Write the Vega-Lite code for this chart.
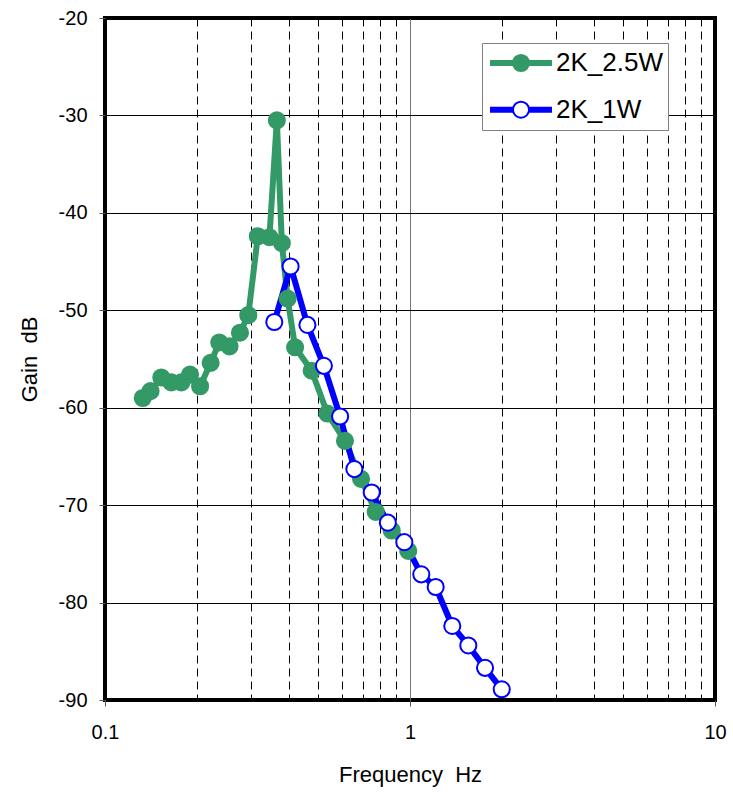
{
  "$schema": "https://vega.github.io/schema/vega-lite/v6.json",
  "width": 610,
  "height": 682,
  "autosize": {"type": "none"},
  "padding": {"left": 105, "top": 18, "right": 18, "bottom": 92},
  "background": "white",
  "config": {
    "view": {"stroke": "black", "strokeWidth": 4},
    "font": "Liberation Sans"
  },
  "data": {
    "values": [
      {"f": 0.133, "gain": -59.0, "series": "2K_2.5W"},
      {"f": 0.141, "gain": -58.3, "series": "2K_2.5W"},
      {"f": 0.153, "gain": -56.9, "series": "2K_2.5W"},
      {"f": 0.165, "gain": -57.4, "series": "2K_2.5W"},
      {"f": 0.178, "gain": -57.4, "series": "2K_2.5W"},
      {"f": 0.190, "gain": -56.6, "series": "2K_2.5W"},
      {"f": 0.205, "gain": -57.8, "series": "2K_2.5W"},
      {"f": 0.222, "gain": -55.4, "series": "2K_2.5W"},
      {"f": 0.237, "gain": -53.3, "series": "2K_2.5W"},
      {"f": 0.256, "gain": -53.7, "series": "2K_2.5W"},
      {"f": 0.277, "gain": -52.3, "series": "2K_2.5W"},
      {"f": 0.295, "gain": -50.5, "series": "2K_2.5W"},
      {"f": 0.317, "gain": -42.4, "series": "2K_2.5W"},
      {"f": 0.346, "gain": -42.5, "series": "2K_2.5W"},
      {"f": 0.366, "gain": -30.5, "series": "2K_2.5W"},
      {"f": 0.380, "gain": -43.1, "series": "2K_2.5W"},
      {"f": 0.397, "gain": -48.8, "series": "2K_2.5W"},
      {"f": 0.420, "gain": -53.8, "series": "2K_2.5W"},
      {"f": 0.476, "gain": -56.2, "series": "2K_2.5W"},
      {"f": 0.536, "gain": -60.6, "series": "2K_2.5W"},
      {"f": 0.612, "gain": -63.4, "series": "2K_2.5W"},
      {"f": 0.691, "gain": -67.3, "series": "2K_2.5W"},
      {"f": 0.772, "gain": -70.7, "series": "2K_2.5W"},
      {"f": 0.871, "gain": -72.6, "series": "2K_2.5W"},
      {"f": 0.987, "gain": -74.7, "series": "2K_2.5W"},
      {"f": 0.359, "gain": -51.2, "series": "2K_1W"},
      {"f": 0.406, "gain": -45.5, "series": "2K_1W"},
      {"f": 0.461, "gain": -51.5, "series": "2K_1W"},
      {"f": 0.522, "gain": -55.7, "series": "2K_1W"},
      {"f": 0.590, "gain": -60.9, "series": "2K_1W"},
      {"f": 0.657, "gain": -66.3, "series": "2K_1W"},
      {"f": 0.749, "gain": -68.7, "series": "2K_1W"},
      {"f": 0.846, "gain": -71.8, "series": "2K_1W"},
      {"f": 0.958, "gain": -73.8, "series": "2K_1W"},
      {"f": 1.089, "gain": -77.1, "series": "2K_1W"},
      {"f": 1.214, "gain": -78.4, "series": "2K_1W"},
      {"f": 1.376, "gain": -82.4, "series": "2K_1W"},
      {"f": 1.553, "gain": -84.4, "series": "2K_1W"},
      {"f": 1.762, "gain": -86.7, "series": "2K_1W"},
      {"f": 1.999, "gain": -88.9, "series": "2K_1W"}
    ]
  },
  "encoding": {
    "x": {
      "field": "f",
      "type": "quantitative",
      "scale": {"type": "log", "domain": [0.1, 10], "nice": false},
      "axis": {
        "orient": "bottom",
        "values": [0.1, 0.2, 0.3, 0.4, 0.5, 0.6, 0.7, 0.8, 0.9, 1, 2, 3, 4, 5, 6, 7, 8, 9, 10],
        "format": "~g",
        "labelExpr": "(datum.value == 0.1 || datum.value == 1 || datum.value == 10) ? datum.label : ''",
        "labelFlush": false,
        "labelOverlap": false,
        "labelBound": false,
        "labelFontSize": 20,
        "labelColor": "black",
        "labelPadding": 16,
        "grid": true,
        "gridColor": {"condition": {"test": "datum.value == 1", "value": "#777777"}, "value": "black"},
        "gridDash": {"condition": {"test": "datum.value == 1", "value": []}, "value": [8, 5]},
        "gridWidth": 1,
        "tickColor": "#555555",
        "tickSize": 6,
        "tickOpacity": {"condition": {"test": "datum.value == 0.1 || datum.value == 1 || datum.value == 10", "value": 1}, "value": 0},
        "domain": false,
        "title": "Frequency\u00a0 Hz",
        "titleFontSize": 22,
        "titleFontWeight": "normal",
        "titleColor": "black",
        "titlePadding": 22
      }
    },
    "y": {
      "field": "gain",
      "type": "quantitative",
      "scale": {"domain": [-90, -20], "nice": false, "zero": false},
      "axis": {
        "values": [-90, -80, -70, -60, -50, -40, -30, -20],
        "labelExpr": "'' + datum.value",
        "labelFontSize": 20,
        "labelColor": "black",
        "labelPadding": 12,
        "grid": true,
        "gridColor": "black",
        "gridWidth": 1,
        "tickColor": "#555555",
        "tickSize": 6,
        "domain": false,
        "title": "Gain\u00a0 dB",
        "titleFontSize": 22,
        "titleFontWeight": "normal",
        "titleColor": "black",
        "titlePadding": 17
      }
    }
  },
  "layer": [
    {
      "mark": {"type": "line", "strokeWidth": 6, "strokeJoin": "round"},
      "encoding": {
        "color": {
          "field": "series",
          "type": "nominal",
          "scale": {"domain": ["2K_2.5W", "2K_1W"], "range": ["#339966", "#0000FF"]},
          "legend": {
            "title": null,
            "orient": "none",
            "legendX": 377,
            "legendY": 25,
            "padding": 5,
            "fillColor": "white",
            "strokeColor": "#808080",
            "symbolType": "stroke",
            "symbolSize": 3844,
            "symbolStrokeWidth": 6,
            "symbolOffset": 0,
            "labelOffset": 1,
            "labelFontSize": 26,
            "labelColor": "black",
            "labelLimit": 300,
            "clipHeight": 30,
            "rowPadding": 16.7
          }
        }
      }
    },
    {
      "mark": {"type": "point", "shape": "circle", "filled": true, "size": 260, "strokeWidth": 2, "opacity": 1},
      "encoding": {
        "fill": {
          "field": "series",
          "type": "nominal",
          "sort": "descending",
          "scale": {"range": ["#339966", "white"]},
          "legend": {
            "title": null,
            "orient": "none",
            "legendX": 377,
            "legendY": 25,
            "padding": 5,
            "symbolType": "circle",
            "symbolSize": 260,
            "symbolStrokeWidth": 2,
            "symbolOpacity": 1,
            "symbolOffset": 21,
            "labelOffset": 1,
            "labelFontSize": 26,
            "labelExpr": "''",
            "labelLimit": 300,
            "clipHeight": 30,
            "rowPadding": 16.7
          }
        },
        "stroke": {
          "field": "series",
          "type": "nominal",
          "sort": "descending",
          "scale": {"range": ["#339966", "#0000FF"]},
          "legend": {
            "title": null,
            "orient": "none",
            "legendX": 377,
            "legendY": 25,
            "padding": 5,
            "symbolType": "circle",
            "symbolSize": 260,
            "symbolStrokeWidth": 2,
            "symbolOpacity": 1,
            "symbolOffset": 21,
            "labelOffset": 1,
            "labelFontSize": 26,
            "labelExpr": "''",
            "labelLimit": 300,
            "clipHeight": 30,
            "rowPadding": 16.7
          }
        }
      }
    }
  ]
}
